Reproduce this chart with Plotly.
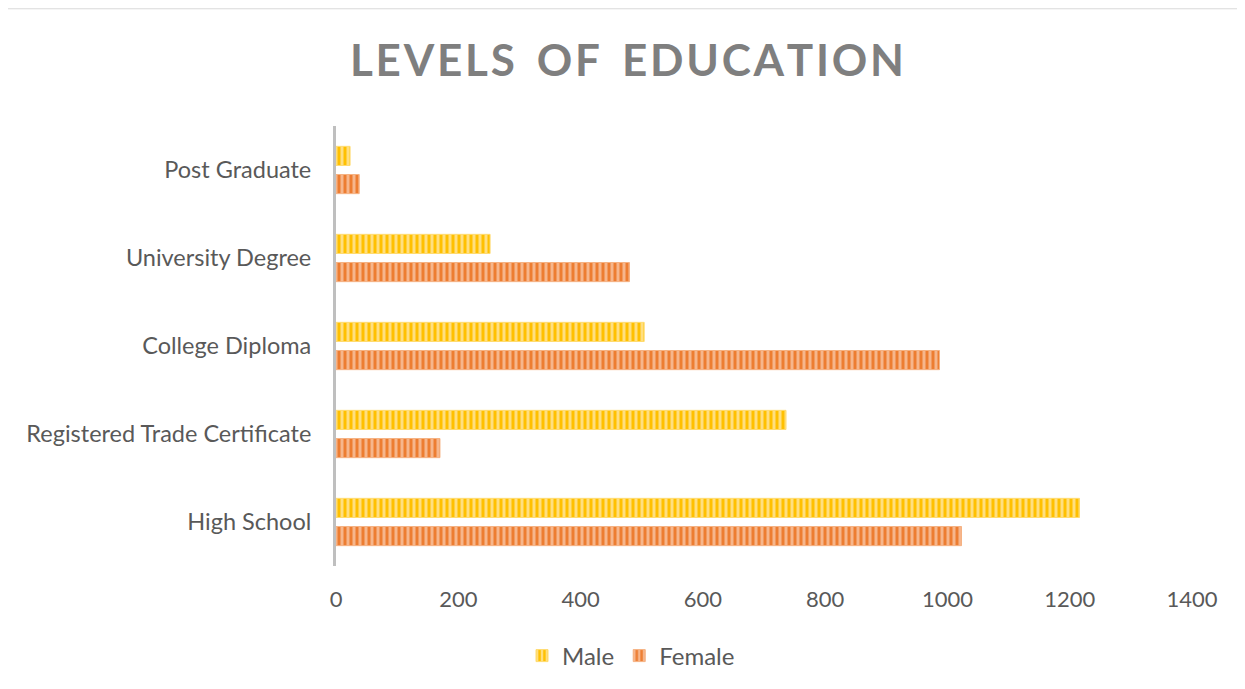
import plotly.graph_objects as go

categories = ["High School", "Registered Trade Certificate", "College Diploma",
              "University Degree", "Post Graduate"]
male = [1216, 736, 504, 252, 23]
female = [1023, 170, 987, 480, 38]
x_ticks = [0, 200, 400, 600, 800, 1000, 1200, 1400]

# the page body adds an 8px offset; work in page pixels of the reference
OFF = 8
W, H = 1245 - OFF, 689 - OFF
ml, mt = 336 - OFF, 126 - OFF
mr = W - (1192 - OFF)
mb = H - (567 - OFF)
pw, ph = W - ml - mr, H - mt - mb

def px_to_paper_x(px):
    return (px - OFF - ml) / pw

def px_to_paper_y(py):
    return (H - mb - (py - OFF)) / ph

fig = go.Figure()
fig.add_trace(go.Bar(
    y=categories, x=female, orientation="h", name="Female",
    marker=dict(color="#F5B283",
                line=dict(color="#F5B283", width=1),
                pattern=dict(shape="|", fgcolor="#ED7D31", bgcolor="#F6B68C",
                             size=6, solidity=0.5, fillmode="replace")),
))
fig.add_trace(go.Bar(
    y=categories, x=male, orientation="h", name="Male",
    marker=dict(color="#FFDB70",
                line=dict(color="#FFDB70", width=1),
                pattern=dict(shape="|", fgcolor="#FFC000", bgcolor="#FFDF80",
                             size=6, solidity=0.5, fillmode="replace")),
))

# thin frame line at top of chart
fig.add_shape(type="line", xref="paper", yref="paper",
              x0=px_to_paper_x(OFF), x1=px_to_paper_x(1245 + 5),
              y0=px_to_paper_y(OFF + 0.5), y1=px_to_paper_y(OFF + 0.5),
              line=dict(color="#D9D9D9", width=1))

title_text = "\u2002".join("\u200a".join(word) for word in ["LEVELS", "OF", "EDUCATION"])

fig.update_layout(
    width=W, height=H,
    margin=dict(l=ml, r=mr, t=mt, b=mb),
    paper_bgcolor="white",
    plot_bgcolor="white",
    barmode="group",
    bargap=0.36,
    bargroupgap=0.32,
    title=dict(text=title_text,
               x=(627 - OFF) / W, xanchor="center", y=1 - (61 - OFF) / H,
               yanchor="middle", yref="container",
               font=dict(family="Lato", size=44, color="#7F7F7F", weight="bold")),
    font=dict(family="Lato", color="#595959"),
    legend=dict(orientation="h", x=px_to_paper_x(631), xanchor="center",
                y=px_to_paper_y(656), yanchor="middle", traceorder="reversed",
                font=dict(family="Lato", size=24, color="#595959"),
                bgcolor="rgba(0,0,0,0)"),
    xaxis=dict(range=[0, 1400], tickvals=x_ticks, showgrid=False, zeroline=False,
               showline=False, ticks="", tickfont=dict(size=22, color="#595959"),
               ticklabelstandoff=18),
    yaxis=dict(showgrid=False, zeroline=False, showline=True, linecolor="#BFBFBF",
               linewidth=3, ticks="", tickfont=dict(size=23.5, color="#595959"),
               ticklabelstandoff=17),
)

fig.write_html("out.html")
